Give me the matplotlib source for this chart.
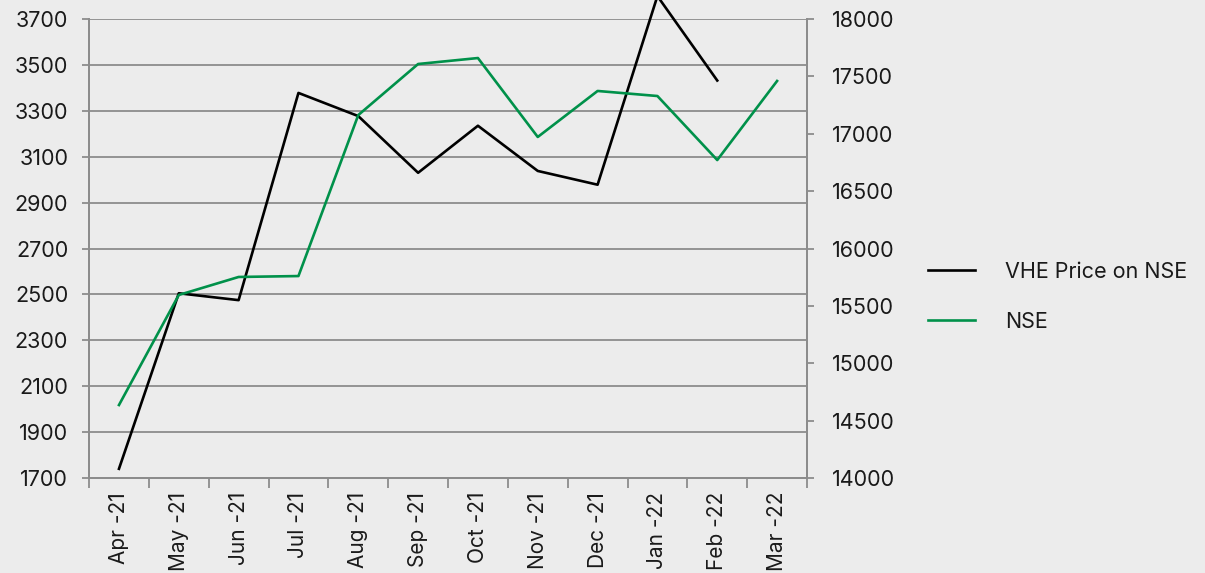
"""VHE share price vs NSE index, Apr-21 to Mar-22."""

import numpy as np
import matplotlib
matplotlib.use("Agg")
import matplotlib.pyplot as plt
from matplotlib.ticker import FixedLocator, NullFormatter

# ---------------------------------------------------------------------------
# Data
# ---------------------------------------------------------------------------

MONTHS = ["Apr -21", "May -21", "Jun -21", "Jul -21", "Aug -21", "Sep -21",
          "Oct -21", "Nov -21", "Dec -21", "Jan -22", "Feb -22", "Mar -22"]

VHE_PRICE = [1740, 2505, 2475, 3378, 3277, 3030, 3235, 3038, 2978, 3800, 3432, np.nan]
NSE_INDEX = [14636, 15595, 15752, 15760, 17163, 17608, 17660, 16972, 17373, 17329, 16771, 17460]

LEFT_TICKS = list(range(1700, 3701, 200))
RIGHT_TICKS = list(range(14000, 18001, 500))

BG_COLOR = "#ececec"
GRID_COLOR = "#8c8c8c"
TEXT_COLOR = "#1a1a1a"
VHE_COLOR = "#000000"
NSE_COLOR = "#00914a"

plt.rcParams["font.family"] = ["Inter", "DejaVu Sans"]


def main():
    fig = plt.figure(figsize=(12.05, 5.73), dpi=100)
    fig.patch.set_facecolor(BG_COLOR)
    ax = fig.add_axes([0.0739, 0.1658, 0.5958, 0.801])
    ax.set_facecolor(BG_COLOR)
    ax2 = ax.twinx()

    x = np.arange(len(MONTHS))
    l1, = ax.plot(x, VHE_PRICE, color=VHE_COLOR, linewidth=1.9, clip_on=False,
                  zorder=3, label="VHE Price on NSE")
    l2, = ax2.plot(x, NSE_INDEX, color=NSE_COLOR, linewidth=1.9, clip_on=False,
                   label="NSE")

    ax.set_xlim(-0.5, len(MONTHS) - 0.5)
    ax.set_ylim(1700, 3700)
    ax2.set_ylim(14000, 18000)
    ax.set_yticks(LEFT_TICKS)
    ax2.set_yticks(RIGHT_TICKS)

    # category axis: labels at centres, tick marks at boundaries
    ax.set_xticks(x)
    ax.set_xticklabels(MONTHS, rotation=90, fontsize=15, color=TEXT_COLOR)
    ax.tick_params(axis="x", which="major", length=0, pad=10)
    ax.xaxis.set_minor_locator(FixedLocator(np.arange(-0.5, len(MONTHS), 1.0)))
    ax.xaxis.set_minor_formatter(NullFormatter())
    ax.tick_params(axis="x", which="minor", length=7, width=1.3, color=GRID_COLOR)

    ax.tick_params(axis="y", length=5, width=1.3, color=GRID_COLOR,
                   labelsize=15.5, labelcolor=TEXT_COLOR, pad=10)
    ax2.tick_params(axis="y", length=5, width=1.3, color=GRID_COLOR,
                    labelsize=15.5, labelcolor=TEXT_COLOR, pad=13)

    ax.grid(axis="y", color=GRID_COLOR, linewidth=1.3)
    ax.set_axisbelow(True)

    for a in (ax, ax2):
        for side, spine in a.spines.items():
            spine.set_color(GRID_COLOR)
            spine.set_linewidth(1.3)
        a.spines["top"].set_visible(False)

    fig.legend(handles=[l1, l2], loc="center left", bbox_to_anchor=(0.754, 0.482),
               frameon=False, fontsize=15.5, handlelength=2.2, handletextpad=1.4,
               labelspacing=1.4, labelcolor=TEXT_COLOR)

    fig.savefig("out.png", dpi=100, facecolor=BG_COLOR)
    plt.close(fig)


if __name__ == "__main__":
    main()
